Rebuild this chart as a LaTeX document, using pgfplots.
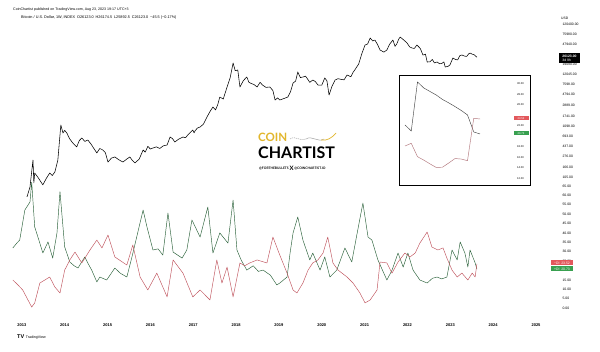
\documentclass[border=0pt]{standalone}
\usepackage{fontspec}
\setmainfont{Liberation Sans}
\newfontfamily\logofont{Lato}
\usepackage{pgfplots}
\pgfplotsset{compat=1.18}
\definecolor{dmigreen}{RGB}{40,96,56}
\definecolor{dmired}{RGB}{192,82,92}
\definecolor{coingold}{RGB}{226,182,44}
\definecolor{insetdark}{RGB}{70,70,70}
\definecolor{insetred}{RGB}{178,118,124}
\definecolor{tvred}{RGB}{226,88,92}
\definecolor{tvgreen}{RGB}{56,160,80}
\newcommand\tl{\fontsize{3.4}{4}\selectfont}
\newcommand\itl{\fontsize{2.7}{3}\selectfont}
\newcommand\hd{\fontsize{3.6}{4}\selectfont}
\begin{document}
\begin{tikzpicture}[x=1pt,y=1pt]
\path[use as bounding box, fill=white] (0pt,0pt) rectangle (600pt,-352pt);

% ---------- price pane (log) ----------
\begin{axis}[at={(0pt,-20pt)}, anchor=north west, scale only axis,
  width=548pt, height=180pt,
  xmin=2012.49, xmax=2025.28, ymode=log, ymin=36.37, ymax=144800,
  axis line style={draw=none}, tick style={draw=none}, major tick length=0pt, minor tick length=0pt,
  xtick=\empty, yticklabel pos=right,
  ytick={105,166,276,437,693,1098,1741,2889,4794,7598,12045,19090,47940,75980,120400},
  yticklabels={105.00,166.00,276.00,437.00,693.00,1098.00,1741.00,2889.00,4794.00,7598.00,12045.00,19090.00,47940.00,75980.00,120400.00},
  yticklabel style={font=\tl, anchor=west, xshift=11pt},
  clip=false]
\addplot[black, line width=0.55pt, line join=round] coordinates {
(2013.12,42) (2013.19,66) (2013.26,229) (2013.28,80) (2013.30,126) (2013.37,105) (2013.49,73)
(2013.57,98) (2013.65,126) (2013.71,112) (2013.77,132) (2013.84,229) (2013.91,1150) (2013.96,796) (2014.00,900) (2014.05,796) (2014.11,620)
(2014.17,526) (2014.22,470) (2014.28,418) (2014.34,560) (2014.40,632) (2014.47,540) (2014.54,576) (2014.62,470) (2014.68,390) (2014.75,317) (2014.82,390) (2014.89,364)
(2014.95,320) (2015.01,209) (2015.09,250) (2015.17,264) (2015.27,230) (2015.36,209) (2015.45,240) (2015.52,264) (2015.58,225) (2015.64,200)
(2015.74,240) (2015.83,364) (2015.88,330) (2015.94,430) (2016.00,380) (2016.06,399) (2016.14,420) (2016.22,390) (2016.30,440) (2016.39,458) (2016.46,662) (2016.52,610) (2016.57,526)
(2016.66,600) (2016.76,662) (2016.82,640) (2016.88,740) (2016.99,913) (2017.02,800) (2017.05,900) (2017.10,1000) (2017.16,1049) (2017.24,1200) (2017.32,1662)
(2017.40,2200) (2017.46,2634) (2017.52,2300) (2017.57,2900) (2017.62,4174) (2017.70,3800) (2017.79,6615) (2017.86,10000) (2017.93,19990) (2017.98,14000) (2018.04,14478)
(2018.09,6615) (2018.17,8900) (2018.25,10488) (2018.30,8200) (2018.35,7800) (2018.42,7400) (2018.49,6615) (2018.56,8200) (2018.62,7200) (2018.70,6500) (2018.79,6615)
(2018.86,5600) (2018.91,3637) (2018.97,4000) (2019.02,3637) (2019.12,3900) (2019.21,4174) (2019.27,5300) (2019.33,7958) (2019.39,8700) (2019.44,13204) (2019.50,10200)
(2019.56,10488) (2019.62,10900) (2019.66,9800) (2019.72,8200) (2019.79,9131) (2019.85,8500) (2019.91,7256) (2020.00,7200) (2020.07,10017) (2020.12,8800) (2020.17,4577) (2020.24,6900)
(2020.31,9131) (2020.38,9700) (2020.45,9400) (2020.52,9200) (2020.59,11500) (2020.68,10600) (2020.73,13000) (2020.77,14478) (2020.86,19000) (2020.94,31660) (2021.01,45800)
(2021.07,48000) (2021.13,63190) (2021.19,55000) (2021.24,57630) (2021.30,47000) (2021.36,36370) (2021.45,33000) (2021.52,36370) (2021.58,47000) (2021.66,57630)
(2021.71,43000) (2021.75,48000) (2021.80,61000) (2021.83,66000) (2021.92,57000) (2021.99,50190) (2022.05,42000) (2022.10,40000) (2022.16,39000) (2022.22,45800) (2022.30,39000) (2022.36,28890)
(2022.42,30000) (2022.46,20930) (2022.52,21000) (2022.58,23500) (2022.63,20000) (2022.69,20930) (2022.75,19300) (2022.80,19500) (2022.85,21000) (2022.88,16620) (2022.95,17200) (2022.99,18230)
(2023.06,25170) (2023.12,23500) (2023.17,23000) (2023.22,28000) (2023.27,28890) (2023.33,27500) (2023.38,27000) (2023.43,30500) (2023.46,31660) (2023.51,30000) (2023.55,29500) (2023.62,26100)
};
\end{axis}

% ---------- DMI pane ----------
\begin{axis}[at={(0pt,-176pt)}, anchor=north west, scale only axis,
  width=548pt, height=136pt,
  xmin=2012.49, xmax=2025.28, ymin=-2.13, ymax=70.33,
  axis line style={draw=none}, tick style={draw=none}, major tick length=0pt,
  xtick={2013,2014,2015,2016,2017,2018,2019,2020,2021,2022,2023,2024,2025},
  xticklabels={2013,2014,2015,2016,2017,2018,2019,2020,2021,2022,2023,2024,2025},
  xticklabel style={font=\fontsize{4}{4}\selectfont\bfseries, anchor=center, yshift=-13.5pt},
  ytick={0,5,10,15,25,30,35,40,45,50,55,60,65},
  yticklabels={0.00,5.00,10.00,15.00,25.00,30.00,35.00,40.00,45.00,50.00,55.00,60.00,65.00},
  yticklabel pos=right,
  yticklabel style={font=\tl, anchor=west, xshift=11pt},
  clip=false]
\addplot[dmigreen, line width=0.45pt, line join=round] coordinates {
(2012.79,32.0) (2012.88,34.5) (2012.95,36.2) (2013.07,52.2) (2013.19,56.5) (2013.23,67) (2013.30,43.2) (2013.40,36) (2013.49,29.3)
(2013.61,35.2) (2013.72,26.6) (2013.82,40.0) (2013.89,62.0) (2014.00,32.5) (2014.12,24.5) (2014.22,22.5) (2014.31,21.3)
(2014.47,27.2) (2014.55,23.5) (2014.63,20.2) (2014.75,13.9) (2014.82,16.5) (2014.98,14.9) (2015.17,21.3) (2015.30,18.5) (2015.45,16.5)
(2015.57,27.2) (2015.83,52.2) (2015.92,43.2) (2016.06,30.9) (2016.18,31.5) (2016.29,28.2) (2016.41,50.6) (2016.53,29.8)
(2016.74,26.6) (2016.85,30.9) (2016.97,46.9) (2017.16,37.8) (2017.34,53.8) (2017.46,29.3) (2017.62,40.0)
(2017.81,34.6) (2017.93,57.5) (2018.02,30.9) (2018.12,25.5) (2018.25,20.2) (2018.40,22.5) (2018.52,19.5) (2018.63,20.2) (2018.80,17.5) (2018.95,12.3) (2019.02,13.3)
(2019.19,16.5) (2019.26,29.3) (2019.33,40.0) (2019.44,48.5) (2019.56,36.2) (2019.72,25.6) (2019.79,29.3)
(2019.96,20.2) (2020.07,27.2) (2020.19,16.5) (2020.35,20.2) (2020.54,32.0) (2020.70,24.5) (2020.84,41.6)
(2020.96,55.9) (2021.08,37.8) (2021.17,36.2) (2021.31,25.6) (2021.52,14.9) (2021.64,20.2) (2021.78,29.3)
(2021.90,21.8) (2022.01,29.3) (2022.13,20.2) (2022.29,14.9) (2022.46,13.3) (2022.58,15.8) (2022.69,16.5) (2022.80,15.5) (2022.92,16.5)
(2023.04,30.9) (2023.16,25.6) (2023.23,35.2) (2023.34,29.3) (2023.41,21.8) (2023.46,30.9) (2023.58,24.0)
(2023.62,20.7)
};
\addplot[dmired, line width=0.45pt, line join=round] coordinates {
(2012.79,14.9) (2012.90,12.5) (2013.02,9.6) (2013.23,0.5) (2013.30,2.7) (2013.42,13.3) (2013.65,16.5) (2013.77,11.2)
(2013.89,8.0) (2014.00,20.2) (2014.12,25.6) (2014.24,29.8) (2014.40,24.0) (2014.59,30.9) (2014.75,36.2)
(2014.87,32.0) (2015.01,38.9) (2015.17,27.2) (2015.45,22.9) (2015.59,33.6) (2015.76,16.5) (2015.94,9.6)
(2016.15,18.6) (2016.39,5.9) (2016.53,25.6) (2016.76,18.6) (2016.99,5.9) (2017.16,9.6) (2017.39,4.3)
(2017.55,25.6) (2017.67,13.3) (2017.79,21.8) (2017.93,5.9) (2018.09,24.0) (2018.20,22.5) (2018.32,24.0) (2018.49,25.6)
(2018.72,24.0) (2018.86,37.8) (2019.02,28.2) (2019.19,18.6) (2019.33,9.6) (2019.42,8.0) (2019.56,13.3)
(2019.68,20.2) (2019.79,24.0) (2019.91,25.6) (2020.03,29.3) (2020.14,37.8) (2020.26,24.0) (2020.38,20.2)
(2020.59,16.5) (2020.73,13.3) (2020.89,8.0) (2021.01,2.7) (2021.13,4.3) (2021.29,9.6) (2021.36,24.5)
(2021.52,24.0) (2021.64,18.6) (2021.78,24.5) (2021.94,29.3) (2022.06,27.2) (2022.18,29.3) (2022.29,34.6)
(2022.46,40.5) (2022.57,32.5) (2022.71,30.9) (2022.83,32.0) (2022.92,26.6) (2023.04,20.2) (2023.16,16.5)
(2023.27,18.6) (2023.41,14.9) (2023.51,18.6) (2023.58,16.5) (2023.62,23.5)
};
\end{axis}

% ---------- inset ----------
\begin{axis}[at={(399pt,-75pt)}, anchor=north west, scale only axis,
  width=131pt, height=110pt,
  xmin=-0.96, xmax=20, ymin=10.76, ymax=31.71,
  axis background/.style={fill=white},
  axis line style={black, line width=0.8pt}, tick style={draw=none}, major tick length=0pt,
  xtick=\empty, yticklabel pos=right,
  ytick={12,14,16,18,22,26,28,30},
  yticklabels={12.00,14.00,16.00,18.00,22.00,26.00,28.00,30.00},
  yticklabel style={font=\itl, anchor=east, xshift=-2.5pt}]
\addplot[insetdark, line width=0.45pt] coordinates {
(0,22.19) (1,21.05) (2,30.38) (3,29.24) (4,28.57) (5,27.9) (6,27.05) (7,26.4) (8,25.7) (9,24.95) (10,24.1) (11,20.86) (12,20.48)
};
\addplot[insetred, line width=0.45pt] coordinates {
(0,18.19) (1,18.7) (2,16.15) (3,15.5) (4,14.78) (5,14.1) (6,14.15) (7,14.95) (8,15.8) (9,15.7) (10,15.39) (11,23.47) (12,23.33)
};
\end{axis}
\node[fill=tvred, text=white, font=\itl, inner sep=0.5pt, minimum width=15pt, minimum height=4pt] at (521pt,-118.3pt) {23.52};
\node[fill=tvgreen, text=white, font=\itl, inner sep=0.5pt, minimum width=15pt, minimum height=4pt] at (521pt,-133.3pt) {20.73};

% ---------- right-scale badges ----------
\node[anchor=west, inner sep=0, font=\tl] at (561pt,-18pt) {USD};
\node[fill=black, text=white, inner sep=0.6pt, minimum width=21pt, minimum height=10pt, align=left, font=\fontsize{3.4}{3.8}\selectfont] at (569.5pt,-58pt) {\bfseries 26123.00\\ 3d 9h};
\node[fill=tvred, text=white, font=\tl, inner sep=0.5pt, minimum width=22pt, minimum height=5pt] at (562pt,-263pt) {−DI\enspace 23.52};
\node[fill=tvgreen, text=white, font=\tl, inner sep=0.5pt, minimum width=22pt, minimum height=5pt] at (562pt,-269pt) {+DI\enspace 20.73};

% ---------- header / footer ----------
\node[anchor=base west, inner sep=0, font=\hd] at (13pt,-10.5pt) {CoinChartist published on TradingView.com, Aug 23, 2023 19:17 UTC+3};
\node[anchor=base west, inner sep=0, font=\fontsize{3.8}{4}\selectfont] at (21pt,-18.5pt) {Bitcoin / U.S. Dollar, 1W, INDEX\enspace O26123.0\enspace H26174.5\enspace L25892.5\enspace C26123.0\enspace −45.5 (−0.17\%)};
\node[anchor=base west, inner sep=0, font=\hd] at (17pt,-339pt) {{\fontsize{5.5}{6}\selectfont\bfseries TV}\, TradingView};

% ---------- logo ----------
\node[anchor=base west, inner sep=0, text=coingold, font=\logofont\bfseries\fontsize{11.5}{12}\selectfont] at (258pt,-142pt) {COIN};
\node[anchor=base west, inner sep=0, text=black, font=\logofont\bfseries\fontsize{16}{16}\selectfont] at (258pt,-158.5pt) {CHARTIST};
\node[anchor=base west, inner sep=0, font=\logofont\bfseries\fontsize{3.3}{4}\selectfont] at (259pt,-169.5pt) {@FORTHEBULLETS \raisebox{-0.6pt}{\fontsize{6}{6}\selectfont X} @COINCHARTIST.IO};
\draw[gray!70, line width=0.5pt, dash pattern=on 1.2pt off 0.8pt] (290pt,-139pt) .. controls (296pt,-135pt) and (300pt,-142pt) .. (306pt,-139pt);
\draw[gray!70, line width=0.5pt] (306pt,-139pt) .. controls (312pt,-135pt) and (318pt,-143pt) .. (324pt,-139pt);
\draw[coingold, line width=0.7pt] (321pt,-140pt) .. controls (327pt,-141pt) and (332pt,-138pt) .. (336pt,-133pt);
\end{tikzpicture}
\end{document}
